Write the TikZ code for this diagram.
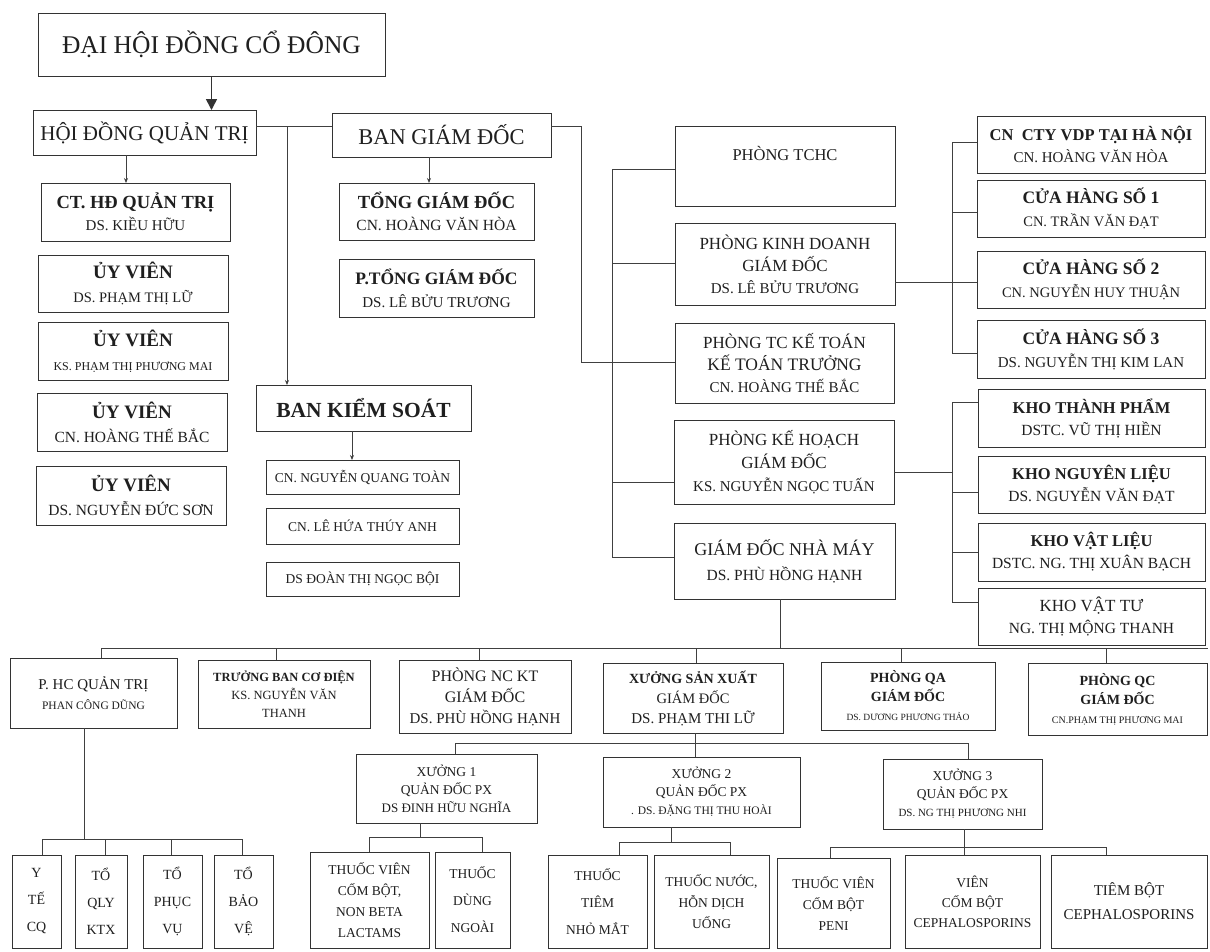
\documentclass[tikz,border=0pt]{standalone}
\usepackage{fontspec}
\setmainfont{Liberation Serif}
\usetikzlibrary{arrows.meta,calc}
\newcommand\T[2]{{\fontsize{#1}{#1}\selectfont #2}}
\newcommand\BX[7][20]{\node[box,font=\fontsize{10}{#1}\selectfont,minimum width={(#5)-(#3)},minimum height={(#6)-(#4)}] (#2) at ({((#3)+(#5))/2},{-((#4)+(#6))/2}) {#7};}
\tikzset{
  box/.style={draw=black!80,line width=0.9pt,inner sep=1pt,outer sep=0pt,align=center,text=black!88},
  conn/.style={draw=black!75,line width=0.8pt},
  arr/.style={conn,-{Stealth[length=5pt,width=4pt]}},
  bigarr/.style={draw=black!80,line width=1.6pt,-{Triangle[length=11pt,width=11pt]}}
}
\begin{document}
\begin{tikzpicture}[x=1pt,y=1pt]
\fill[white] (0,0) rectangle (1210,-951);
\useasboundingbox (0,0) rectangle (1210,-951);
% top levels
\BX{dhd}{38}{13}{385}{76}{\T{25.5}{ĐẠI HỘI ĐỒNG CỔ ĐÔNG}}
\BX{hdqt}{33}{110}{256}{155}{\T{21}{HỘI ĐỒNG QUẢN TRỊ}}
\BX{bgd}{332}{113}{551}{157}{\T{22.5}{BAN GIÁM ĐỐC}}
% HDQT members
\BX[22]{ct}{41}{183}{230}{241}{\T{18.5}{\bfseries CT. HĐ QUẢN TRỊ}\\\T{15}{DS. KIỀU HỮU}}
\BX[24]{uv1}{38}{255}{228}{312}{\T{19}{\bfseries ỦY VIÊN}\\\T{14.5}{DS. PHẠM THỊ LỮ}}
\BX[24]{uv2}{38}{322}{228}{380}{\T{19}{\bfseries ỦY VIÊN}\\\T{12}{KS. PHẠM THỊ PHƯƠNG MAI}}
\BX[24]{uv3}{37}{393}{227}{451}{\T{19}{\bfseries ỦY VIÊN}\\\T{15.5}{CN. HOÀNG THẾ BẮC}}
\BX[24]{uv4}{36}{466}{226}{525}{\T{19}{\bfseries ỦY VIÊN}\\\T{15.5}{DS. NGUYỄN ĐỨC SƠN}}
% BGD
\BX[22]{tgd}{339}{183}{534}{240}{\T{18.5}{\bfseries TỔNG GIÁM ĐỐC}\\\T{15.5}{CN. HOÀNG VĂN HÒA}}
\BX[23]{ptgd}{339}{259}{534}{317}{\T{17.5}{\bfseries P.TỔNG GIÁM ĐỐC}\\\T{15}{DS. LÊ BỬU TRƯƠNG}}
% BKS
\BX{bks}{256}{385}{471}{431}{\T{21.5}{\bfseries BAN KIỂM SOÁT}}
\BX{ks1}{266}{460}{459}{494}{\T{13.5}{CN. NGUYỄN QUANG TOÀN}}
\BX{ks2}{266}{508}{459}{544}{\T{13.5}{CN. LÊ HỨA THÚY ANH}}
\BX{ks3}{266}{562}{459}{596}{\T{13.5}{DS ĐOÀN THỊ NGỌC BỘI}}
% departments
\BX[22]{tchc}{675}{126}{895}{206}{\T{16.5}{PHÒNG TCHC}\\\T{13}{\strut}}
\BX[22]{kd}{675}{223}{895}{305}{\T{17}{PHÒNG KINH DOANH}\\\T{17}{GIÁM ĐỐC}\\\T{15}{DS. LÊ BỬU TRƯƠNG}}
\BX[22]{tckt}{675}{323}{894}{403}{\T{17}{PHÒNG TC KẾ TOÁN}\\\T{17.5}{KẾ TOÁN TRƯỞNG}\\\T{15}{CN. HOÀNG THẾ BẮC}}
\BX[23]{kh}{674}{420}{894}{504}{\T{17}{PHÒNG KẾ HOẠCH}\\\T{17}{GIÁM ĐỐC}\\\T{15}{KS. NGUYỄN NGỌC TUẤN}}
\BX[25]{nm}{674}{523}{895}{599}{\T{18}{GIÁM ĐỐC NHÀ MÁY}\\\T{15.5}{DS. PHÙ HỒNG HẠNH}}
% stores
\BX[22]{cn}{977}{116}{1205}{173}{\T{16.5}{\bfseries CN\ \ CTY VDP TẠI HÀ NỘI}\\\T{15}{CN. HOÀNG VĂN HÒA}}
\BX[23]{ch1}{977}{180}{1205}{237}{\T{17.5}{\bfseries CỬA HÀNG SỐ 1}\\\T{14.5}{CN. TRẦN VĂN ĐẠT}}
\BX[23]{ch2}{977}{251}{1205}{308}{\T{17.5}{\bfseries CỬA HÀNG SỐ 2}\\\T{14.5}{CN. NGUYỄN HUY THUẬN}}
\BX[23]{ch3}{977}{320}{1205}{378}{\T{17.5}{\bfseries CỬA HÀNG SỐ 3}\\\T{15}{DS. NGUYỄN THỊ KIM LAN}}
% warehouses
\BX[22]{ktp}{978}{389}{1205}{447}{\T{16.5}{\bfseries KHO THÀNH PHẨM}\\\T{15.5}{DSTC. VŨ THỊ HIỀN}}
\BX[22]{knl}{978}{456}{1205}{513}{\T{16.5}{\bfseries KHO NGUYÊN LIỆU}\\\T{15.5}{DS. NGUYỄN VĂN ĐẠT}}
\BX[22]{kvl}{978}{523}{1205}{581}{\T{16.5}{\bfseries KHO VẬT LIỆU}\\\T{15.5}{DSTC. NG. THỊ XUÂN BẠCH}}
\BX[22]{kvt}{978}{588}{1205}{645}{\T{17}{KHO VẬT TƯ}\\\T{15.5}{NG. THỊ MỘNG THANH}}
% factory row
\BX[20]{phc}{10}{658}{177}{728}{\T{15}{P. HC QUẢN TRỊ}\\\T{11.5}{PHAN CÔNG DŨNG}}
\BX[18]{tbcd}{198}{660}{370}{728}{\T{12.5}{\bfseries TRƯỞNG BAN CƠ ĐIỆN}\\\T{12.5}{KS. NGUYỄN VĂN}\\\T{12.5}{THANH}}
\BX[21]{nckt}{399}{660}{571}{733}{\T{16}{PHÒNG NC KT}\\\T{16}{GIÁM ĐỐC}\\\T{15}{DS. PHÙ HỒNG HẠNH}}
\BX[20]{xsx}{603}{663}{783}{733}{\T{14}{\bfseries XƯỞNG SẢN XUẤT}\\\T{14.5}{GIÁM ĐỐC}\\\T{15}{DS. PHẠM THI LỮ}}
\BX[19]{qa}{821}{662}{995}{730}{\T{14}{\bfseries PHÒNG QA}\\\T{14}{\bfseries GIÁM ĐỐC}\\\T{9.5}{DS. DƯƠNG PHƯƠNG THẢO}}
\BX[19]{qc}{1028}{663}{1207}{735}{\T{14}{\bfseries PHÒNG QC}\\\T{14}{\bfseries GIÁM ĐỐC}\\\T{10}{CN.PHẠM THỊ PHƯƠNG MAI}}
% workshops
\BX[18]{xa}{356}{754}{537}{823}{\T{13.5}{XƯỞNG 1}\\\T{13.5}{QUẢN ĐỐC PX}\\\T{13}{DS ĐINH HỮU NGHĨA}}
\BX[18]{xb}{603}{757}{800}{827}{\T{13.5}{XƯỞNG 2}\\\T{13.5}{QUẢN ĐỐC PX}\\\T{11.5}{. DS. ĐẶNG THỊ THU HOÀI}}
\BX[18]{xc}{883}{759}{1042}{829}{\T{13.5}{XƯỞNG 3}\\\T{13.5}{QUẢN ĐỐC PX}\\\T{11}{DS. NG THỊ PHƯƠNG NHI}}
% bottom boxes
\BX[27]{yte}{12}{855}{61}{948}{\T{14}{Y}\\\T{14}{TẾ}\\\T{14}{CQ}}
\BX[27]{qly}{75}{855}{127}{948}{\T{14}{TỔ}\\\T{14}{QLY}\\\T{14}{KTX}}
\BX[27]{pv}{143}{855}{202}{948}{\T{14}{TỔ}\\\T{14}{PHỤC}\\\T{14}{VỤ}}
\BX[27]{bv}{214}{855}{273}{948}{\T{14}{TỔ}\\\T{14}{BẢO}\\\T{14}{VỆ}}
\BX[21]{tv1}{310}{852}{429}{948}{\T{13.5}{THUỐC VIÊN}\\\T{13.5}{CỐM BỘT,}\\\T{13.5}{NON BETA}\\\T{13.5}{LACTAMS}}
\BX[27]{tdn}{435}{852}{510}{948}{\T{13.5}{THUỐC}\\\T{13.5}{DÙNG}\\\T{13.5}{NGOÀI}}
\BX[27]{ttm}{548}{855}{647}{948}{\T{13.5}{THUỐC}\\\T{13.5}{TIÊM}\\\T{13.5}{NHỎ MẮT}}
\BX[21]{tn}{654}{855}{769}{948}{\T{13.5}{THUỐC NƯỚC,}\\\T{13.5}{HỖN DỊCH}\\\T{13.5}{UỐNG}}
\BX[21]{peni}{777}{858}{890}{948}{\T{13.5}{THUỐC VIÊN}\\\T{13.5}{CỐM BỘT}\\\T{13.5}{PENI}}
\BX[20]{vceph}{905}{855}{1040}{948}{\T{13.5}{VIÊN}\\\T{13.5}{CỐM BỘT}\\\T{13.5}{CEPHALOSPORINS}}
\BX[24]{tbceph}{1051}{855}{1207}{948}{\T{15}{TIÊM BỘT}\\\T{15}{CEPHALOSPORINS}}
% ---------- connectors
\draw[bigarr] (dhd.south) -- (dhd.south |- hdqt.north);
\coordinate (jq) at (287,-126);
\draw[conn] (hdqt.east |- jq) -- (bgd.west |- jq);
\draw[arr] (jq) -- (jq |- bks.north);
\coordinate (act) at (126,0);
\draw[arr] (hdqt.south -| act) -- (ct.north -| act);
\coordinate (atg) at (429,0);
\draw[arr] (bgd.south -| atg) -- (tgd.north -| atg);
\coordinate (aks) at (352,0);
\draw[arr] (bks.south -| aks) -- (ks1.north -| aks);
\coordinate (bR) at (581,-126);
\coordinate (bRb) at (581,-362);
\draw[conn] (bgd.east |- bR) -- (bR) -- (bRb) -- (tckt.west |- bRb);
% department bus
\coordinate (busT) at (612,-169);
\coordinate (busB) at (612,-557);
\coordinate (bkd) at (612,-263);
\coordinate (bkh) at (612,-482);
\draw[conn] (busT) -- (busB);
\draw[conn] (busT) -- (tchc.west |- busT);
\draw[conn] (bkd) -- (kd.west |- bkd);
\draw[conn] (bkh) -- (kh.west |- bkh);
\draw[conn] (busB) -- (nm.west |- busB);
% stores
\coordinate (sT) at (952,-142);
\coordinate (s1) at (952,-212);
\coordinate (s2) at (952,-282);
\coordinate (sB) at (952,-353);
\draw[conn] (sT) -- (sB);
\draw[conn] (sT) -- (cn.west |- sT);
\draw[conn] (s1) -- (ch1.west |- s1);
\draw[conn] (kd.east |- s2) -- (ch2.west |- s2);
\draw[conn] (sB) -- (ch3.west |- sB);
% warehouses
\coordinate (wT) at (952,-402);
\coordinate (wk) at (952,-472);
\coordinate (w2) at (952,-492);
\coordinate (w3) at (952,-552);
\coordinate (wB) at (952,-602);
\draw[conn] (wT) -- (wB);
\draw[conn] (kh.east |- wk) -- (wk);
\draw[conn] (wT) -- (ktp.west |- wT);
\draw[conn] (w2) -- (knl.west |- w2);
\draw[conn] (w3) -- (kvl.west |- w3);
\draw[conn] (wB) -- (kvt.west |- wB);
% factory bus
\coordinate (mb) at (780,-648);
\coordinate (mbL) at (101,-648);
\coordinate (mbR) at (1208,-648);
\draw[conn] (nm.south -| mb) -- (mb);
\draw[conn] (mbL) -- (mbR);
\foreach \n/\x in {phc/101,tbcd/276,nckt/479,xsx/696,qa/901,qc/1106}{
  \coordinate (t) at (\x,-648);
  \draw[conn] (t) -- (\n.north -| t);
}
% workshop bus
\coordinate (sbx) at (695,-743);
\coordinate (sbL) at (455,-743);
\coordinate (sbR) at (968,-743);
\draw[conn] (xsx.south -| sbx) -- (sbx);
\draw[conn] (sbL) -- (sbR);
\draw[conn] (sbL) -- (xa.north -| sbL);
\draw[conn] (sbx) -- (xb.north -| sbx);
\draw[conn] (sbR) -- (xc.north -| sbR);
% PHC teams
\coordinate (pb) at (84,-839);
\draw[conn] (phc.south -| pb) -- (pb);
\coordinate (pbL) at (42,-839);
\coordinate (pbR) at (242,-839);
\draw[conn] (pbL) -- (pbR);
\foreach \n/\x in {yte/42,qly/105,pv/171,bv/242}{
  \coordinate (t) at (\x,-839);
  \draw[conn] (t) -- (\n.north -| t);
}
% Xuong 1
\coordinate (ab) at (420,-837);
\draw[conn] (xa.south -| ab) -- (ab);
\coordinate (abL) at (369,-837);
\coordinate (abR) at (482,-837);
\draw[conn] (abL) -- (abR);
\draw[conn] (abL) -- (tv1.north -| abL);
\draw[conn] (abR) -- (tdn.north -| abR);
% Xuong 2
\coordinate (bb) at (671,-842);
\draw[conn] (xb.south -| bb) -- (bb);
\coordinate (bbL) at (619,-842);
\coordinate (bbR) at (730,-842);
\draw[conn] (bbL) -- (bbR);
\draw[conn] (bbL) -- (ttm.north -| bbL);
\draw[conn] (bbR) -- (tn.north -| bbR);
% Xuong 3
\coordinate (cb) at (964,-847);
\draw[conn] (xc.south -| cb) -- (cb);
\coordinate (cbL) at (830,-847);
\coordinate (cbR) at (1106,-847);
\draw[conn] (cbL) -- (cbR);
\draw[conn] (cbL) -- (peni.north -| cbL);
\draw[conn] (cb) -- (vceph.north -| cb);
\draw[conn] (cbR) -- (tbceph.north -| cbR);
\end{tikzpicture}
\end{document}
